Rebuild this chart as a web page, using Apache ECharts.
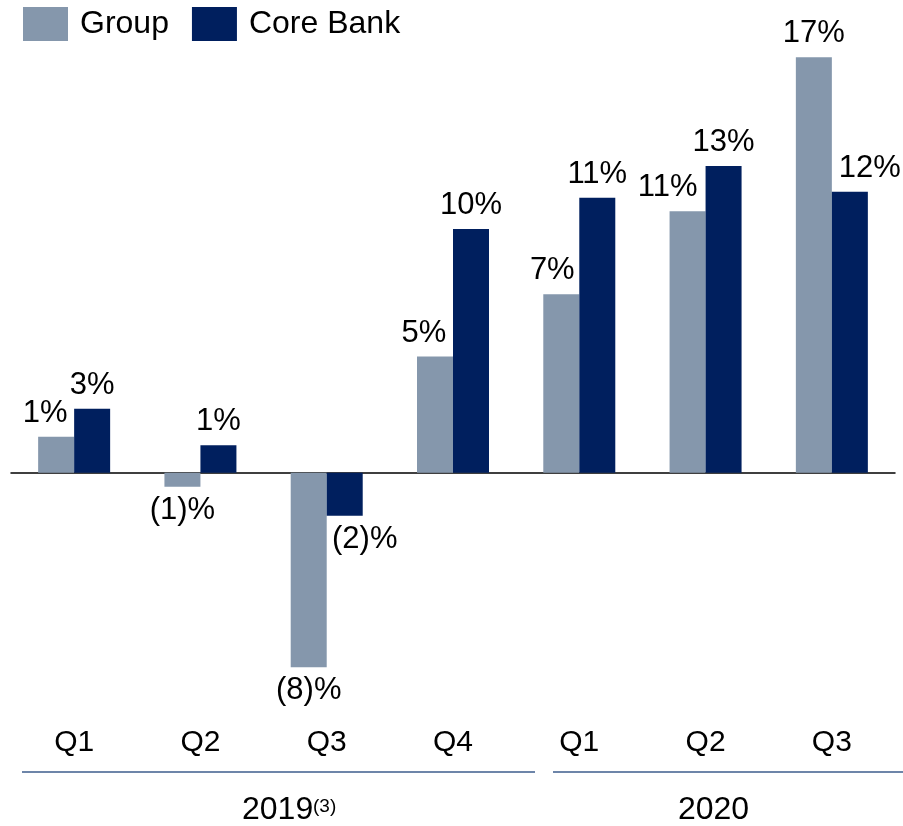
<!DOCTYPE html>
<html>
<head>
<meta charset="utf-8">
<title>Group vs Core Bank</title>
<script src="https://cdn.jsdelivr.net/npm/echarts@6/dist/echarts.min.js"></script>
<style>
  html, body { margin: 0; padding: 0; background: #fff; }
  #chart { width: 903px; height: 826px; }
</style>
</head>
<body>
<div id="chart"></div>
<script>
// quarters and the two series (%)
const quarters = ['Q1', 'Q2', 'Q3', 'Q4', 'Q1', 'Q2', 'Q3']
const groupValues = [1.47, -0.57, -7.96, 4.75, 7.3, 10.7, 17.0]
const coreValues = [2.62, 1.12, -1.76, 9.97, 11.25, 12.55, 11.5]

// sideways nudge of some labels so they clear the neighbour bar
const groupLabelDx = [-11, 0, 0, -11, -9, -20, 0]
const coreLabelDx = [0, 0, 20, 0, 0, 0, 20]

const FONT = 'Liberation Sans, Arial, sans-serif'
const GROUP_COLOR = '#8597ac'
const CORE_COLOR = '#001f5e'

const fmtPct = (v) => {
  const r = Math.round(Math.abs(v))
  return v < 0 ? '(' + r + ')%' : r + '%'
}

const buildData = (values, dx) =>
  values.map((v, i) => ({ value: v, label: { offset: [dx[i], 0] } }))

const chart = echarts.init(document.getElementById('chart'))

const barLabel = {
  show: true,
  position: 'outside',
  distance: 8,
  fontFamily: FONT,
  fontSize: 31,
  color: '#000',
  formatter: (p) => fmtPct(p.value)
}

let option = {
  animation: false,
  legend: {
    left: 18,
    top: 2,
    itemWidth: 45,
    itemHeight: 34,
    itemGap: 23,
    icon: 'rect',
    textStyle: { fontFamily: FONT, fontSize: 32, color: '#000', padding: [0, 0, 0, 7] },
    data: ['Group', 'Core Bank']
  },
  grid: { left: 11, right: 8, top: 32.78, bottom: 133.34 },
  xAxis: [
    {
      type: 'category',
      data: quarters,
      axisLine: { show: true, onZero: true, lineStyle: { color: '#000', width: 1.5 } },
      axisTick: { show: false },
      axisLabel: { show: false }
    },
    {
      type: 'category',
      data: quarters,
      position: 'bottom',
      axisLine: { show: false, onZero: false },
      axisTick: { show: false },
      axisLabel: { margin: 35, fontFamily: FONT, fontSize: 30, color: '#000' }
    }
  ],
  yAxis: {
    type: 'value',
    min: -9,
    max: 18,
    show: false,
    splitLine: { show: false }
  },
  series: [
    {
      name: 'Group',
      type: 'bar',
      barWidth: 36,
      barGap: '0%',
      itemStyle: { color: GROUP_COLOR },
      label: barLabel,
      data: buildData(groupValues, groupLabelDx)
    },
    {
      name: 'Core Bank',
      type: 'bar',
      barWidth: 36,
      barGap: '0%',
      itemStyle: { color: CORE_COLOR },
      label: barLabel,
      data: buildData(coreValues, coreLabelDx)
    }
  ],
  graphic: [
    { type: 'line', shape: { x1: 22, y1: 772, x2: 535, y2: 772 }, style: { stroke: '#6d85a9', lineWidth: 2 } },
    { type: 'line', shape: { x1: 553, y1: 772, x2: 903, y2: 772 }, style: { stroke: '#6d85a9', lineWidth: 2 } },
    { type: 'text', x: 242, y: 810, style: { text: '2019', font: '32px ' + FONT, fill: '#000', align: 'left', verticalAlign: 'middle' } },
    { type: 'text', x: 313, y: 807, style: { text: '(3)', font: '19px ' + FONT, fill: '#000', align: 'left', verticalAlign: 'middle' } },
    { type: 'text', x: 713.5, y: 810, style: { text: '2020', font: '32px ' + FONT, fill: '#000', align: 'center', verticalAlign: 'middle' } }
  ]
}
chart.setOption(option)
</script>
</body>
</html>
